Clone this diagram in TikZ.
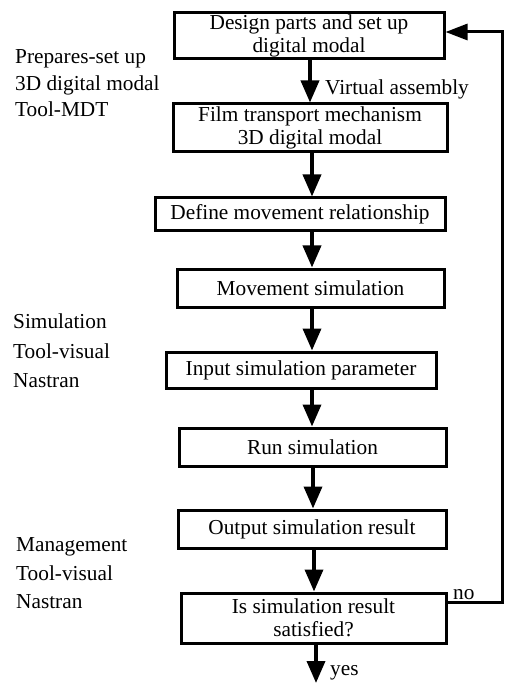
\documentclass[tikz,border=0pt]{standalone}
\usepackage{fontspec}
\setmainfont{Liberation Serif}
\usetikzlibrary{arrows.meta}
\begin{document}
\begin{tikzpicture}[x=1pt,y=-1pt,
  box/.style={draw,line width=3pt,inner sep=0pt,align=center,font=\fontsize{21.3}{23}\selectfont},
  arr/.style={line width=3.6pt,-{Triangle[length=22pt,width=18pt]}},
  fb/.style={line width=3pt,-{Triangle[length=22pt,width=16pt]}},
  lab/.style={anchor=base west,inner sep=0pt,font=\fontsize{21.3}{23}\selectfont}]
\useasboundingbox (0,0) rectangle (504,684);
\node[box,minimum width=270pt,minimum height=46pt] (b1) at (309,36) {Design parts and set up\\digital modal};
\node[box,minimum width=274pt,minimum height=48pt] (b2) at (310,128) {Film transport mechanism\\3D digital modal};
\node[box,minimum width=290pt,minimum height=33pt] (b3) at (300,214.5) {Define movement relationship};
\node[box,minimum width=267pt,minimum height=38pt] (b4) at (310.5,288) {Movement simulation};
\node[box,minimum width=270pt,minimum height=36pt] (b5) at (301,370) {Input simulation parameter};
\node[box,minimum width=267pt,minimum height=38pt] (b6) at (312.5,447) {Run simulation};
\node[box,minimum width=268pt,minimum height=38pt] (b7) at (312,529) {Output simulation result};
\node[box,minimum width=265pt,minimum height=50pt] (b8) at (313.5,618) {Is simulation result\\satisfied?};
% arrow x positions
\coordinate (a1) at (310,0);
\coordinate (a2) at (312,0);
\coordinate (a3) at (312,0);
\coordinate (a4) at (312,0);
\coordinate (a5) at (313,0);
\coordinate (a6) at (314,0);
\coordinate (end) at (316,683);
\draw[arr] (b1.south -| a1) -- (b2.north -| a1);
\draw[arr] (b2.south -| a2) -- (b3.north -| a2);
\draw[arr] (b3.south -| a3) -- (b4.north -| a3);
\draw[arr] (b4.south -| a3) -- (b5.north -| a3);
\draw[arr] (b5.south -| a4) -- (b6.north -| a4);
\draw[arr] (b6.south -| a5) -- (b7.north -| a5);
\draw[arr] (b7.south -| a6) -- (b8.north -| a6);
\draw[arr] (b8.south -| end) -- (end);
% feedback
\coordinate (n1) at (502,602);
\coordinate (n2) at (502,32);
\draw[fb] (b8.east |- n1) -- (n1) -- (n2) -- (b1.east |- n2);
% labels
\node[lab] (va) at (325,95) {Virtual assembly};
\node[lab] (no) at (453,599) {no};
\node[lab] (yes) at (330,675) {yes};
\node[lab] (l1) at (15,64) {Prepares-set up};
\node[lab] (l2) at (15,90.5) {3D digital modal};
\node[lab] (l3) at (15,117) {Tool-MDT};
\node[lab] (l4) at (13,328) {Simulation};
\node[lab] (l5) at (13,358) {Tool-visual};
\node[lab] (l6) at (13,387) {Nastran};
\node[lab] (l7) at (16,551) {Management};
\node[lab] (l8) at (16,580) {Tool-visual};
\node[lab] (l9) at (16,608) {Nastran};
\end{tikzpicture}
\end{document}
